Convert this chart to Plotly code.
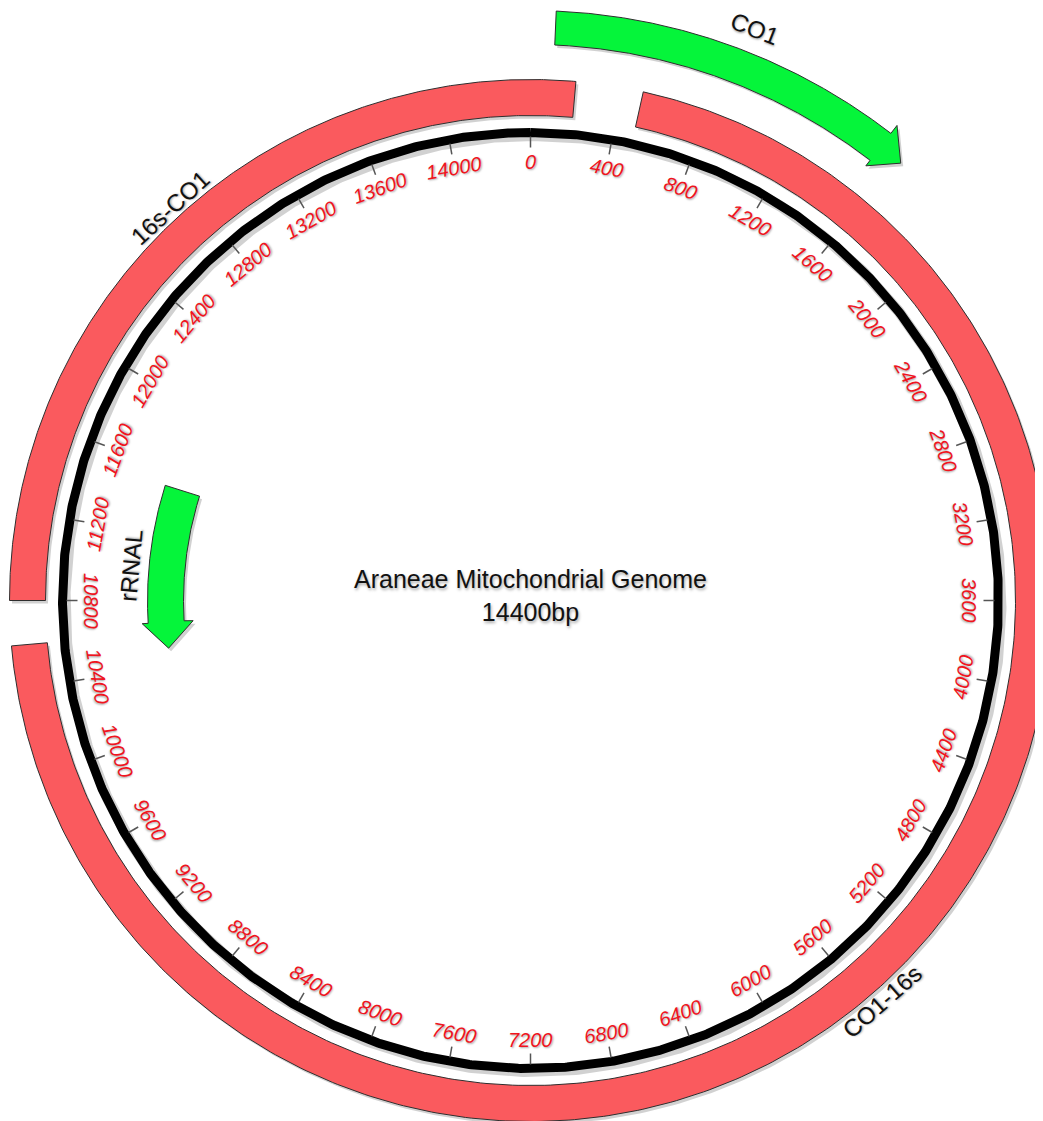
import numpy as np
import plotly.graph_objects as go

# ---------------- data ----------------
GENOME_LENGTH = 14400
TITLE_LINES = ["Araneae Mitochondrial Genome", "14400bp"]

tick_positions = [0, 400, 800, 1200, 1600, 2000, 2400, 2800, 3200, 3600, 4000, 4400,
                  4800, 5200, 5600, 6000, 6400, 6800, 7200, 7600, 8000, 8400, 8800, 9200,
                  9600, 10000, 10400, 10800, 11200, 11600, 12000, 12400, 12800, 13200,
                  13600, 14000]
tick_labels = ["0", "400", "800", "1200", "1600", "2000", "2400", "2800", "3200", "3600",
               "4000", "4400", "4800", "5200", "5600", "6000", "6400", "6800", "7200",
               "7600", "8000", "8400", "8800", "9200", "9600", "10000", "10400", "10800",
               "11200", "11600", "12000", "12400", "12800", "13200", "13600", "14000"]

segment_names = ["16s-CO1", "CO1-16s"]
segment_starts = [10800, 500]
segment_ends = [200, 10600]          # 16s-CO1 wraps through 0

gene_names = ["CO1", "rRNAL"]
gene_starts = [100, 11500]
gene_ends = [1610, 10500]            # rRNAL runs on the reverse strand

# ---------------- style ----------------
RING_R = 468
RING_W = 9
TICK_R0, TICK_R1 = 464, 453
LABEL_R = 439
SEG_R_IN, SEG_R_OUT = 485, 521
SEG_LABEL_R = 533
SEG_FILL = "#FA5A5E"
GENE_FILL = "#05F53A"
OUTLINE = "#2E2E2E"
TICK_LABEL_COLOR = "#F0141E"
GENE_TRACKS = {  # body inner, body outer, wing inner, wing outer, label radius
    "CO1": (556, 590, 549, 600, 614),
    "rRNAL": (347, 383, 338, 389, 401),
}
HEAD_PX = 26
FONT = "Liberation Sans, Arial, sans-serif"
SHADOW_DX, SHADOW_DY = 2.5, -3.0

PAGE_W, PAGE_H = 1043, 1121
BODY_MARGIN = 8                      # default page margin around the plot div
W, H = PAGE_W - BODY_MARGIN, PAGE_H - BODY_MARGIN
CX, CY = 530.5 - BODY_MARGIN, 600.5 - BODY_MARGIN   # map centre inside the div


def bp_to_rad(bp):
    return 2 * np.pi * np.asarray(bp, dtype=float) / GENOME_LENGTH


def polar_xy(r, bp):
    t = bp_to_rad(bp)
    return np.asarray(r) * np.sin(t), np.asarray(r) * np.cos(t)


def text_angle(bp):
    d = (360.0 * bp / GENOME_LENGTH) % 360
    if d <= 90:
        return d
    if d <= 270:
        return d - 180
    return d - 360


fig = go.Figure()


def add_poly(xs, ys, fill, line_color, line_width=1.0, shadow=True):
    if shadow:
        fig.add_trace(go.Scatter(x=np.asarray(xs) + SHADOW_DX, y=np.asarray(ys) + SHADOW_DY,
                                 mode="lines", fill="toself", fillcolor="rgba(0,0,0,0.18)",
                                 line=dict(width=0, color="rgba(0,0,0,0)"), hoverinfo="skip"))
    fig.add_trace(go.Scatter(x=xs, y=ys, mode="lines", fill="toself", fillcolor=fill,
                             line=dict(color=line_color, width=line_width), hoverinfo="skip"))


# ----- red segment ring -----
for name, s, e in zip(segment_names, segment_starts, segment_ends):
    e2 = e + GENOME_LENGTH if e < s else e
    bps = np.linspace(s, e2, 400)
    xo, yo = polar_xy(SEG_R_OUT, bps)
    xi, yi = polar_xy(SEG_R_IN, bps[::-1])
    xs = np.concatenate([xo, xi, xo[:1]])
    ys = np.concatenate([yo, yi, yo[:1]])
    add_poly(xs, ys, SEG_FILL, OUTLINE)

# ----- gene arrows -----
for name, s, e in zip(gene_names, gene_starts, gene_ends):
    b_in, b_out, w_in, w_out, _ = GENE_TRACKS[name]
    d = 1 if e > s else -1
    r_mid = (b_in + b_out) / 2
    head_bp = HEAD_PX / r_mid * GENOME_LENGTH / (2 * np.pi)
    base = e - d * head_bp
    bps = np.linspace(s, base, 300)
    xo, yo = polar_xy(b_out, bps)
    xi, yi = polar_xy(b_in, bps[::-1])
    wx1, wy1 = polar_xy(w_out, base)
    tx, ty = polar_xy(r_mid, e)
    wx2, wy2 = polar_xy(w_in, base)
    xs = np.concatenate([xo, [wx1, tx, wx2], xi, xo[:1]])
    ys = np.concatenate([yo, [wy1, ty, wy2], yi, yo[:1]])
    add_poly(xs, ys, GENE_FILL, OUTLINE)

# ----- black backbone circle -----
circ = np.linspace(0, GENOME_LENGTH, 1441)
cx_, cy_ = polar_xy(RING_R, circ)
fig.add_trace(go.Scatter(x=cx_ + SHADOW_DX, y=cy_ + SHADOW_DY, mode="lines",
                         line=dict(color="rgba(0,0,0,0.18)", width=RING_W + 2), hoverinfo="skip"))
fig.add_trace(go.Scatter(x=cx_, y=cy_, mode="lines",
                         line=dict(color="black", width=RING_W), hoverinfo="skip"))

# ----- ticks -----
tx_all, ty_all = [], []
for p in tick_positions:
    x0, y0 = polar_xy(TICK_R0, p)
    x1, y1 = polar_xy(TICK_R1, p)
    tx_all += [float(x0), float(x1), None]
    ty_all += [float(y0), float(y1), None]
fig.add_trace(go.Scatter(x=tx_all, y=ty_all, mode="lines",
                         line=dict(color="#555555", width=1.5), hoverinfo="skip"))

annotations = []
for p, lab in zip(tick_positions, tick_labels):
    x, y = polar_xy(LABEL_R, p)
    annotations.append(dict(x=float(x), y=float(y), text=lab, showarrow=False,
                            xanchor="center", yanchor="middle", textangle=text_angle(p),
                            font=dict(family=FONT, size=20, color=TICK_LABEL_COLOR, style="italic",
                                      shadow="1px 1px 2px rgba(0,0,0,0.35)")))

# segment labels
for name, s, e in zip(segment_names, segment_starts, segment_ends):
    e2 = e + GENOME_LENGTH if e < s else e
    mid = ((s + e2) / 2) % GENOME_LENGTH
    x, y = polar_xy(SEG_LABEL_R, mid)
    annotations.append(dict(x=float(x), y=float(y), text=name, showarrow=False,
                            xanchor="center", yanchor="middle", textangle=text_angle(mid),
                            font=dict(family=FONT, size=24, color="#111111",
                                      shadow="1px 1px 2px rgba(0,0,0,0.35)")))

# gene labels
for name, s, e in zip(gene_names, gene_starts, gene_ends):
    mid = (s + e) / 2
    x, y = polar_xy(GENE_TRACKS[name][4], mid)
    annotations.append(dict(x=float(x), y=float(y), text=name, showarrow=False,
                            xanchor="center", yanchor="middle", textangle=text_angle(mid),
                            font=dict(family=FONT, size=24, color="#111111",
                                      shadow="1px 1px 2px rgba(0,0,0,0.35)")))

# centre title (one two-line text block)
annotations.append(dict(x=0, y=5, text="<br>".join(TITLE_LINES), showarrow=False,
                        xanchor="center", yanchor="middle", align="center",
                        font=dict(family=FONT, size=25, color="#111111",
                                  shadow="1px 2px 3px rgba(0,0,0,0.35)")))

fig.update_layout(
    width=W, height=H,
    margin=dict(l=0, r=0, t=0, b=0, pad=0),
    paper_bgcolor="white", plot_bgcolor="white",
    showlegend=False, hovermode=False,
    xaxis=dict(range=[-CX, W - CX], visible=False, fixedrange=True),
    yaxis=dict(range=[-(H - CY), CY], visible=False, fixedrange=True),
    annotations=annotations,
)

fig.write_html("out.html")
